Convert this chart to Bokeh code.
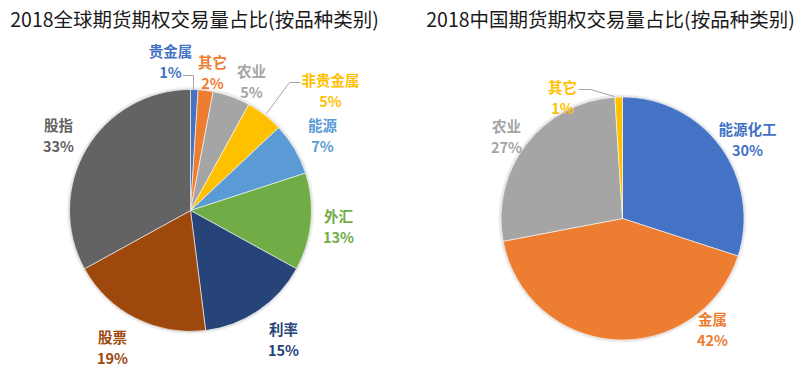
import numpy as np
from bokeh.plotting import figure
from bokeh.models import Range1d, ColumnDataSource
from bokeh.core.properties import value
from bokeh.embed import file_html
from bokeh.resources import INLINE

# ---------------- data ----------------
global_title = "2018全球期货期权交易量占比(按品种类别)"
global_cats = ["贵金属", "其它", "农业", "非贵金属", "能源", "外汇", "利率", "股票", "股指"]
global_vals = [1, 2, 5, 5, 7, 13, 15, 19, 33]

china_title = "2018中国期货期权交易量占比(按品种类别)"
china_cats = ["能源化工", "金属", "农业", "其它"]
china_vals = [30, 42, 27, 1]

# ---------------- styles / layout ----------------
global_colors = ["#4472C4", "#ED7D31", "#A5A5A5", "#FFC000", "#5B9BD5",
                 "#70AD47", "#264478", "#9E480E", "#636363"]
china_colors = ["#4472C4", "#ED7D31", "#A5A5A5", "#FFC000"]

# label anchor positions (screen px, center between name and percent)
global_label_pos = [(170, 60), (212, 71), (251, 80), (330, 89), (322, 134),
                    (338, 225), (283, 338), (112, 346), (58, 134)]
china_label_pos = [(747, 138), (712, 328), (506, 135), (562, 96)]

global_leaders = {0: [(182, 75), (193, 75), (193, 89)],
                  3: [(300, 82), (289, 82), (266, 113)]}
china_leaders = {3: [(578, 89), (590, 89), (614, 96)]}

W, H = 811, 367
FONT = "Noto Sans CJK SC"


def Y(sy):
    return H - sy


p = figure(width=W, height=H, output_backend="svg", toolbar_location=None,
           x_range=Range1d(0, W), y_range=Range1d(0, H),
           x_axis_type=None, y_axis_type=None, min_border=0)
p.grid.visible = False
p.outline_line_color = None
p.background_fill_color = "white"
p.border_fill_color = "white"


def draw_pie(cx, cy, r, cats, vals, colors, label_pos, leaders, title, tx):
    vals = np.array(vals, dtype=float)
    frac = vals / vals.sum()
    cum = np.concatenate([[0], np.cumsum(frac)])
    start = np.pi / 2 - 2 * np.pi * cum[:-1]
    end = np.pi / 2 - 2 * np.pi * cum[1:]
    # soft shadow
    for dr, a in [(3, 0.03), (2, 0.04), (1, 0.06)]:
        p.circle(x=[cx], y=[Y(cy)], radius=r + dr, fill_color="black",
                 fill_alpha=a, line_color=None)
    src = ColumnDataSource(dict(x=[cx] * len(vals), y=[Y(cy)] * len(vals),
                                start=start, end=end, color=colors))
    p.wedge(x="x", y="y", radius=r, start_angle="start", end_angle="end",
            direction="clock", fill_color="color", line_color="white",
            line_width=0.6, source=src)
    for i, pts in leaders.items():
        p.line(x=[q[0] for q in pts], y=[Y(q[1]) for q in pts],
               line_color="#A6A6A6", line_width=1)
    lsrc = ColumnDataSource(dict(
        x=[lp[0] for lp in label_pos],
        yn=[Y(lp[1] - 10.5) for lp in label_pos],
        yp=[Y(lp[1] + 10.5) for lp in label_pos],
        name=cats,
        pct=["%d%%" % round(v) for v in vals],
        color=colors))
    for col, yy in [("name", "yn"), ("pct", "yp")]:
        p.text(x="x", y=yy, text=col, source=lsrc, text_color="color",
               text_font=value(FONT), text_font_style="bold",
               text_font_size="14.5px", text_align="center",
               text_baseline="middle")
    p.text(x=[tx], y=[Y(18)], text=[title], text_color="#1a1a1a",
           text_font=value(FONT), text_font_size="19.5px",
           text_align="center", text_baseline="middle")


draw_pie(190, 210, 121, global_cats, global_vals, global_colors,
         global_label_pos, global_leaders, global_title, 194)
draw_pie(622, 218, 121.5, china_cats, china_vals, china_colors,
         china_label_pos, china_leaders, china_title, 610)

open("out.html", "w").write(file_html(p, INLINE))
